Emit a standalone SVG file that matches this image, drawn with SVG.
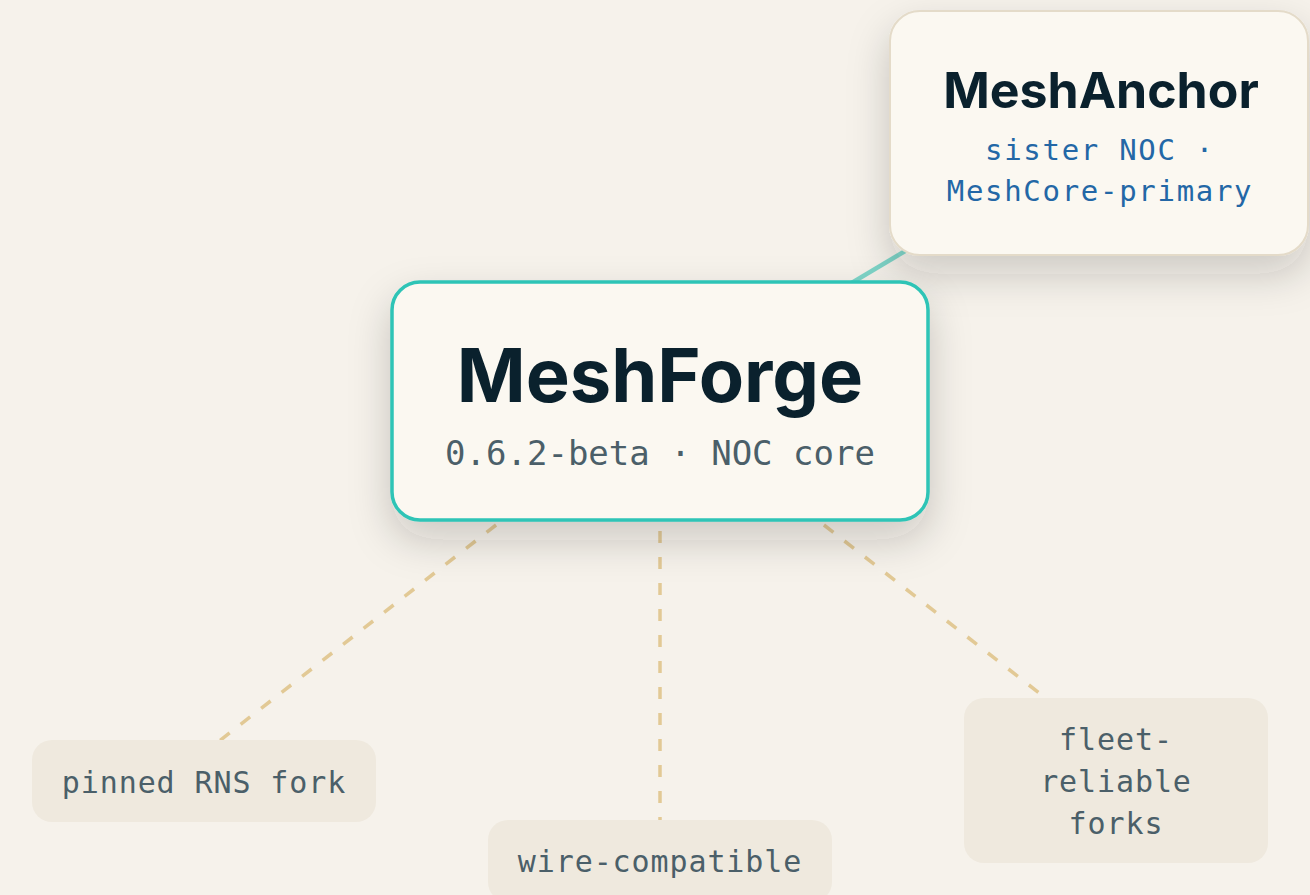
<svg xmlns="http://www.w3.org/2000/svg" width="1310" height="895" viewBox="0 0 1310 895">
  <defs>
    <filter id="shadow" x="-30%" y="-30%" width="160%" height="190%">
      <feDropShadow dx="0" dy="18" stdDeviation="20" flood-color="#2f2a20" flood-opacity="0.2"/>
    </filter>
    <style>
      .title { font-family: Inter, "Liberation Sans", sans-serif; font-weight: 700; fill: #0a212d; text-anchor: middle; }
      .mono { font-family: "DejaVu Sans Mono", "Liberation Mono", monospace; text-anchor: middle; }
      .sub { fill: #4b5f69; }
      .blue { fill: #2367a6; }
      .leaf rect { fill: #efe9de; }
      .leaf text { font-size: 30px; letter-spacing: 0.9px; fill: #4b5f69; }
      .dash { stroke: #e2c995; stroke-width: 3.5; stroke-dasharray: 12 14; fill: none; }
      .sister { stroke: #7ed5c8; stroke-width: 4.5; fill: none; }
    </style>
  </defs>
  <rect width="1310" height="895" fill="#f6f2eb"/>

  <g id="connectors">
    <line class="sister" x1="660" y1="397" x2="1100" y2="135"/>
    <line class="dash" x1="660" y1="397" x2="204" y2="753"/>
    <line class="dash" x1="660" y1="401" x2="660" y2="860"/>
    <line class="dash" x1="660" y1="397" x2="1116" y2="753"/>
  </g>

  <g id="meshanchor">
    <rect x="890" y="11" width="418" height="244" rx="30" fill="#fbf8f1" stroke="#e4dbc9" stroke-width="2" filter="url(#shadow)"/>
    <text class="title" x="1101" y="108" font-size="50">MeshAnchor</text>
    <text class="mono blue" x="1100" y="160" font-size="29" letter-spacing="1.7">sister NOC ·</text>
    <text class="mono blue" x="1100" y="201" font-size="29" letter-spacing="1.7">MeshCore-primary</text>
  </g>

  <g id="meshforge">
    <rect x="392" y="282" width="536" height="238" rx="28" fill="#fbf8f1" stroke="#2ec4b6" stroke-width="3.5" filter="url(#shadow)"/>
    <text class="title" x="660" y="402" font-size="74">MeshForge</text>
    <text class="mono sub" x="660" y="465" font-size="34">0.6.2-beta · NOC core</text>
  </g>

  <g id="pinned-rns-fork" class="leaf">
    <rect x="32" y="740" width="344" height="82" rx="20"/>
    <text class="mono" x="204" y="793">pinned RNS fork</text>
  </g>

  <g id="wire-compatible" class="leaf">
    <rect x="488" y="820" width="344" height="82" rx="20"/>
    <text class="mono" x="660" y="872">wire-compatible</text>
  </g>

  <g id="fleet-reliable-forks" class="leaf">
    <rect x="964" y="698" width="304" height="165" rx="20"/>
    <text class="mono" x="1116" y="750">fleet-</text>
    <text class="mono" x="1116" y="792">reliable</text>
    <text class="mono" x="1116" y="834">forks</text>
  </g>
</svg>
